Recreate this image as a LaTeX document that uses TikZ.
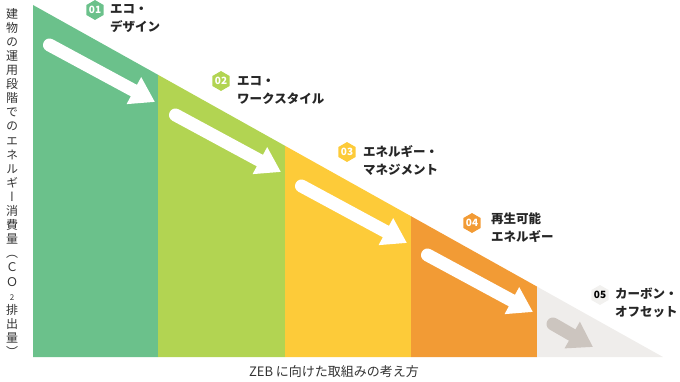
\documentclass[tikz,border=0pt]{standalone}
\usepackage{fontspec}
\setmainfont{Noto Sans CJK JP}
\newfontfamily\vertfont[RawFeature=+vert]{Noto Sans CJK JP}
\usetikzlibrary{arrows.meta,shapes.geometric}

\definecolor{ecogreen}{HTML}{6BC18B}
\definecolor{ecolime}{HTML}{B2D452}
\definecolor{ecoyellow}{HTML}{FDCB39}
\definecolor{ecoorange}{HTML}{F29B35}
\definecolor{ecogray}{HTML}{EFEDEB}
\definecolor{arrowgray}{HTML}{CCC5BF}
\definecolor{badgegray}{HTML}{F2F1EF}

\begin{document}
\begin{tikzpicture}[x=1pt, y=-1pt,
    badge/.style={regular polygon, regular polygon sides=6, shape border rotate=30, minimum size=19pt, inner sep=0pt, font=\fontsize{10}{10}\selectfont\bfseries, text=white},
    lbl/.style={anchor=north west, align=left, inner sep=0pt, font=\fontsize{12.5}{18}\selectfont\bfseries, text=black!85},
    flow/.style={line width=13pt, line cap=round, -{Triangle[width=29pt,length=24pt]}}
]
\useasboundingbox (0,0) rectangle (680,382);

% stepped columns under the slope
\fill[ecogreen]  (33,5) -- (158,74.8) -- (158,357) -- (33,357) -- cycle;
\fill[ecolime]   (158,74.8) -- (285,145.8) -- (285,357) -- (158,357) -- cycle;
\fill[ecoyellow] (285,145.8) -- (411,216.2) -- (411,357) -- (285,357) -- cycle;
\fill[ecoorange] (411,216.2) -- (537,286.6) -- (537,357) -- (411,357) -- cycle;
\fill[ecogray]   (537,286.6) -- (663,357) -- (537,357) -- cycle;

% arrows
\coordinate (tail1) at (49.5,45);  \coordinate (tip1) at (155,102);
\coordinate (tail2) at (175.5,115); \coordinate (tip2) at (281,172);
\coordinate (tail3) at (301.5,186); \coordinate (tip3) at (407,243);
\coordinate (tail4) at (427.5,255); \coordinate (tip4) at (533,312);
\coordinate (tail5) at (553,324);   \coordinate (tip5) at (593,347);
\draw[flow, white] (tail1) -- (tip1);
\draw[flow, white] (tail2) -- (tip2);
\draw[flow, white] (tail3) -- (tip3);
\draw[flow, white] (tail4) -- (tip4);
\draw[flow, arrowgray] (tail5) -- (tip5);

% steps
\node[badge, fill=ecogreen]  (b1) at (95,10) {01};
\node[lbl] (l1) at (110,4.5) {エコ・\\デザイン};
\node[badge, fill=ecolime]   (b2) at (221,81) {02};
\node[lbl] (l2) at (237,76) {エコ・\\ワークスタイル};
\node[badge, fill=ecoyellow] (b3) at (347,152) {03};
\node[lbl] (l3) at (363,145) {エネルギー・\\マネジメント};
\node[badge, fill=ecoorange] (b4) at (472,223) {04};
\node[lbl] (l4) at (491,213) {再生可能\\エネルギー};
\node[badge, fill=badgegray, text=black] (b5) at (600,295) {05};
\node[lbl] (l5) at (615,288) {カーボン・\\オフセット};

% axes
\node[anchor=north, align=center, inner sep=0pt, font=\vertfont\fontsize{12}{14.1}\selectfont, text=black!80] (yaxis) at (12,8)
  {建\\物\\の\\運\\用\\段\\階\\で\\の\\エ\\ネ\\ル\\ギ\\ー\\消\\費\\量\\（\\Ｃ\\Ｏ\\{\fontsize{8}{8}\selectfont 2}\\排\\出\\量\\）};
\node[font=\fontsize{13}{13}\selectfont, text=black!80] (xaxis) at (334,372) {ZEB に向けた取組みの考え方};
\end{tikzpicture}
\end{document}
